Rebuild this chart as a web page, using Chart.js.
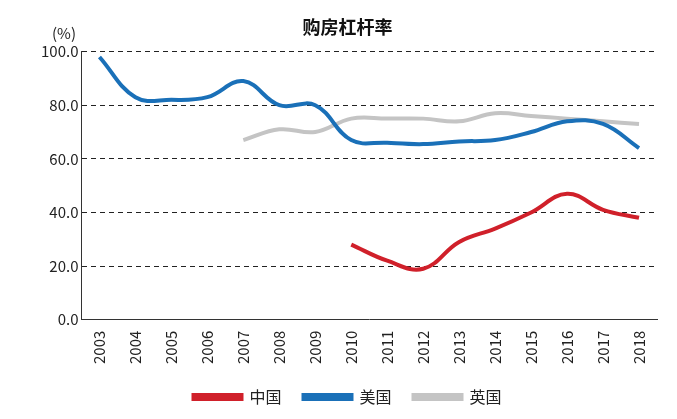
<!DOCTYPE html>
<html><head><meta charset="utf-8">
<script src="https://cdn.jsdelivr.net/npm/chart.js@4"></script>
<style>body{margin:0;background:#fff}#w{position:relative;width:677px;height:419px}</style>
</head><body><div id="w"><canvas id="c"></canvas></div>
<script>
const years=['2003','2004','2005','2006','2007','2008','2009','2010','2011','2012','2013','2014','2015','2016','2017','2018'];
const china=[null,null,null,null,null,null,null,28,22,19,29,34,40,47,41,38];
const usa=[98,83,82,83,89,80,80,67,66,65.5,66.5,67,70,74,73,64];
const uk=[null,null,null,null,67,71,70,75,75,75,74,77,76,75,74,73];
const labels=['中国','美国','英国'];
const F='"Noto Sans CJK SC","Noto Sans",sans-serif';
const ds=(l,d,c)=>({label:l,data:d,borderColor:c,backgroundColor:c,borderWidth:4,pointRadius:0,tension:0.4,spanGaps:false});
const pct={id:'pct',afterDraw(ch){const c=ch.ctx,y=ch.scales.y;c.save();c.font='15px '+F;c.fillStyle='#222';c.textAlign='left';c.fillText('(%)',52,y.top-18);c.restore();}};
new Chart(document.getElementById('c'),{type:'line',
data:{labels:years,datasets:[ds(labels[0],china,'#d0202a'),ds(labels[1],usa,'#1a70b8'),ds(labels[2],uk,'#c4c4c4')]},
options:{responsive:true,maintainAspectRatio:false,animation:false,
layout:{padding:{left:38,right:20,top:0,bottom:4}},
plugins:{title:{display:true,text:'购房杠杆率',font:{family:F,size:18,weight:'bold'},color:'#111',padding:{top:16,bottom:14}},
legend:{position:'bottom',labels:{font:{family:F,size:16},color:'#222',boxWidth:48,boxHeight:4,padding:22}}},
scales:{x:{offset:true,grid:{display:false},border:{color:'#333'},ticks:{maxRotation:90,minRotation:90,font:{family:F,size:15},color:'#222'}},
y:{min:0,max:100,ticks:{stepSize:20,callback:v=>v.toFixed(1),font:{family:F,size:15},color:'#222'},
grid:{color:'#222',drawTicks:false},border:{color:'#333',dash:[5,4]}}}},
plugins:[pct]});
</script></body></html>
